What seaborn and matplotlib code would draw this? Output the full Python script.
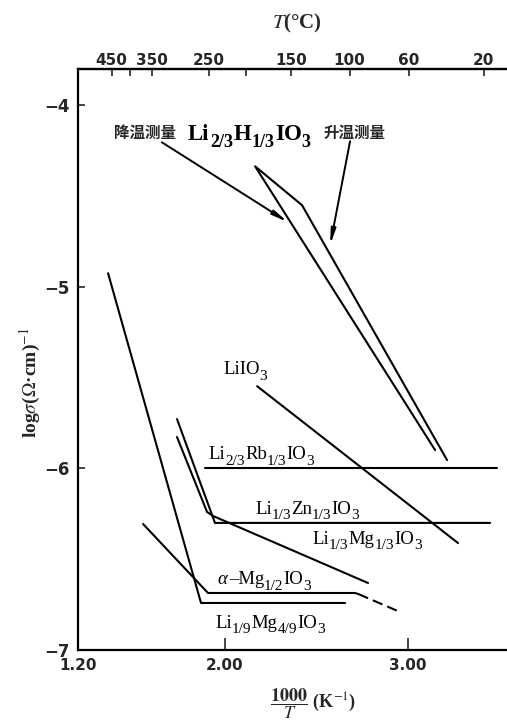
import numpy as np
import pandas as pd
import matplotlib
matplotlib.use("Agg")
import matplotlib.pyplot as plt
import seaborn as sns
from matplotlib.textpath import TextPath
from matplotlib.font_manager import FontProperties

# ---- data: conductivity curves, x = 1000/T (K^-1), y = log sigma ----
h_x = [3.148, 2.166, 2.422, 3.213]          # Li2/3H1/3IO3 cooling / heating loop
h_y = [-5.899, -4.336, -4.550, -5.954]
lio3_x = [2.177, 3.273]                      # LiIO3
lio3_y = [-5.547, -6.411]
rb_x = [1.893, 3.486]                        # Li2/3Rb1/3IO3
rb_y = [-6.0, -6.0]
zn_x = [1.740, 1.947, 3.448]                 # Li1/3Zn1/3IO3
zn_y = [-5.728, -6.300, -6.300]
mg13_x = [1.740, 1.904, 1.937, 2.782]        # Li1/3Mg1/3IO3
mg13_y = [-5.827, -6.240, -6.262, -6.631]
amg_x = [1.555, 1.909, 2.711, 2.730]         # alpha-Mg1/2IO3 (solid part)
amg_y = [-6.306, -6.686, -6.686, -6.692]
amg_dash_x = [2.730, 2.957]                  # alpha-Mg1/2IO3 (extrapolated)
amg_dash_y = [-6.692, -6.791]
li19_x = [1.364, 1.871, 2.657]               # Li1/9Mg4/9IO3
li19_y = [-4.925, -6.741, -6.741]

x_ticks = [1.20, 2.00, 3.00]
x_tick_labels = ["1.20", "2.00", "3.00"]
y_ticks = [-4, -5, -6, -7]
y_tick_labels = ["\u22124", "\u22125", "\u22126", "\u22127"]
t_ticks = [450, 400, 350, 250, 200, 150, 100, 60, 20]
t_tick_labels = ["450", "", "350", "250", "", "150", "100", "60", "20"]

# formula labels: (text, kind) with kind n = normal, s = subscript, i = italic
lbl_h = [("Li", "n"), ("2/3", "s"), ("H", "n"), ("1/3", "s"), ("IO", "n"), ("3", "s")]
lbl_lio3 = [("LiIO", "n"), ("3", "s")]
lbl_rb = [("Li", "n"), ("2/3", "s"), ("Rb", "n"), ("1/3", "s"), ("IO", "n"), ("3", "s")]
lbl_zn = [("Li", "n"), ("1/3", "s"), ("Zn", "n"), ("1/3", "s"), ("IO", "n"), ("3", "s")]
lbl_mg13 = [("Li", "n"), ("1/3", "s"), ("Mg", "n"), ("1/3", "s"), ("IO", "n"), ("3", "s")]
lbl_amg = [("α", "i"), ("–Mg", "n"), ("1/2", "s"), ("IO", "n"), ("3", "s")]
lbl_li19 = [("Li", "n"), ("1/9", "s"), ("Mg", "n"), ("4/9", "s"), ("IO", "n"), ("3", "s")]

sns.set_style("white")
plt.rcParams["mathtext.fontset"] = "stix"
plt.rcParams["font.family"] = ["Liberation Serif", "DejaVu Serif"]

W, H = 507, 724
DPI = 100
fig = plt.figure(figsize=(W / DPI, H / DPI), dpi=DPI)
ax = fig.add_axes([78 / W, 1 - 650 / H, (W - 78) / W, (650 - 69) / H])
ax.set_xlim(1.2, 3.54)
ax.set_ylim(-7.0, -3.80)

lw = 1.5
solid = [(h_x, h_y), (lio3_x, lio3_y), (rb_x, rb_y), (zn_x, zn_y),
         (mg13_x, mg13_y), (amg_x, amg_y), (li19_x, li19_y)]
for xs, ys in solid:
    sns.lineplot(x=xs, y=ys, sort=False, estimator=None, color="black",
                 lw=lw, ax=ax)
sns.lineplot(x=amg_dash_x, y=amg_dash_y, sort=False, estimator=None,
             color="black", lw=lw, ax=ax, linestyle=(0, (5, 2.5)))

# arrows from the heading to the cooling / heating branches
arrow = dict(arrowstyle="-|>,head_length=0.9,head_width=0.14", color="black",
             lw=1.4, shrinkA=0, shrinkB=0)
ax.annotate("", xy=(2.346, -4.644), xytext=(1.658, -4.204), arrowprops=arrow)
ax.annotate("", xy=(2.575, -4.771), xytext=(2.684, -4.198), arrowprops=arrow)


def formula(x, y, parts, size=13.5, sub_size=11, weight="normal", gap=1.0):
    """Write a chemical formula centred on (x, y) with roomy subscripts."""
    pieces = []
    for s, kind in parts:
        fs = sub_size if kind == "s" else size
        prop = FontProperties(family="Liberation Serif", weight=weight,
                              style="italic" if kind == "i" else "normal",
                              size=fs)
        ext = TextPath((0, 0), s, size=fs, prop=prop).get_extents()
        pieces.append((s, kind, prop, ext.x0, ext.x1))
    widths = [x1 - x0 for _, _, _, x0, x1 in pieces]
    total = sum(widths) + gap * (len(pieces) - 1)
    cur = -total / 2.0
    base = -0.33 * size
    for (s, kind, prop, x0, x1), w in zip(pieces, widths):
        dy = base - 0.28 * size if kind == "s" else base
        ax.annotate(s, xy=(x, y), xycoords="data", xytext=(cur - x0, dy),
                    textcoords="offset points", fontproperties=prop,
                    ha="left", va="baseline", color="black")
        cur += w + gap


cjk = ["Noto Sans CJK SC", "DejaVu Sans"]
ax.text(1.566, -4.154, "降温测量", family=cjk, fontweight="bold", fontsize=11.2,
        ha="center", va="center")
formula(2.133, -4.150, lbl_h, size=16.5, sub_size=13, weight="bold", gap=1.2)
ax.text(2.706, -4.154, "升温测量", family=cjk, fontweight="bold", fontsize=11.2,
        ha="center", va="center")

formula(2.111, -5.448, lbl_lio3)
formula(2.198, -5.916, lbl_rb)
formula(2.449, -6.218, lbl_zn)
formula(2.777, -6.383, lbl_mg13)
formula(2.215, -6.604, lbl_amg)
formula(2.247, -6.846, lbl_li19)

# axes styling
for side in ["left", "bottom", "top"]:
    ax.spines[side].set_linewidth(1.6)
    ax.spines[side].set_color("black")
ax.spines["right"].set_visible(False)

ax.set_xticks(x_ticks)
ax.set_xticklabels(x_tick_labels, fontfamily="DejaVu Sans", fontweight="bold",
                   fontsize=11)
ax.set_yticks(y_ticks)
ax.set_yticklabels(y_tick_labels, fontfamily="DejaVu Sans", fontweight="bold",
                   fontsize=12)
ax.tick_params(axis="x", direction="in", length=9, width=1.2, pad=6,
               bottom=True, top=False)
ax.tick_params(axis="y", direction="in", length=5, width=1.2, pad=6, left=True)


# temperature scale along the top, T in degrees Celsius
def to_celsius(x):
    x = np.asarray(x, dtype=float)
    with np.errstate(divide="ignore"):
        return 1000.0 / x - 273.0


def to_inv(t):
    t = np.asarray(t, dtype=float)
    with np.errstate(divide="ignore"):
        return 1000.0 / (t + 273.0)


top = ax.secondary_xaxis("top", functions=(to_celsius, to_inv))
top.set_xticks(t_ticks)
top.set_xticklabels(t_tick_labels, fontfamily="DejaVu Sans", fontweight="bold",
                    fontsize=11)
top.tick_params(direction="in", length=5, width=1.2, pad=1)
top.spines["top"].set_linewidth(1.6)

fig.text(297 / W, 1 - 23 / H, r"$\mathbf{\mathit{T}}$(°C)", fontsize=15,
         fontweight="bold", ha="center", va="center")
fig.text(30 / W, 1 - 383 / H, r"log$\sigma$($\Omega$·cm)$^{-1}$", fontsize=14,
         fontweight="bold", rotation=90, ha="center", va="center")
fig.text(313 / W, 1 - 704 / H, r"$\dfrac{\mathbf{1000}}{T}$ (K$^{-1}$)",
         fontsize=13, fontweight="bold", ha="center", va="center")

fig.savefig("out.png", dpi=DPI, facecolor="white")
